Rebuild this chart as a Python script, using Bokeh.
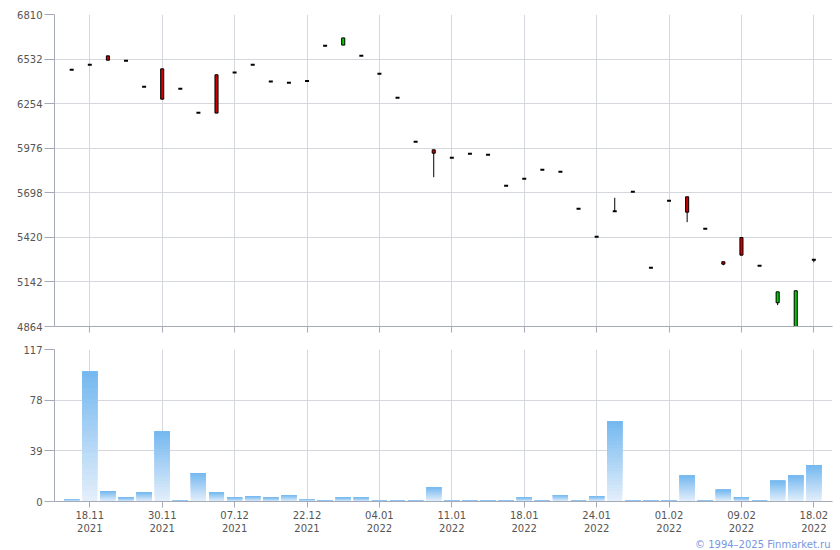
from bokeh.plotting import figure
from bokeh.layouts import column
from bokeh.models import FixedTicker, Range1d, Title
from bokeh.embed import file_html
from bokeh.resources import INLINE

# ---- data ----
price_open = [6465, 6496, 6552, 6521, 6359, 6471, 6347, 6197, 6434, 6448,
              6496, 6392, 6384, 6396, 6615, 6619, 6552, 6440, 6290, 6016,
              5966, 5916, 5941, 5935, 5742, 5785, 5841, 5829, 5598, 5424,
              5583, 5704, 5230, 5648, 5673, 5473, 5268, 5419, 5243, 5012,
              4864, 5280]
price_close = [6465, 6496, 6525, 6521, 6359, 6282, 6347, 6197, 6195, 6448,
               6496, 6392, 6384, 6396, 6615, 6664, 6552, 6440, 6290, 6016,
               5945, 5916, 5941, 5935, 5742, 5785, 5841, 5829, 5598, 5424,
               5583, 5704, 5230, 5648, 5577, 5473, 5253, 5309, 5243, 5080,
               5087, 5280]
price_high = [6465, 6496, 6552, 6521, 6359, 6471, 6347, 6197, 6434, 6448,
              6496, 6392, 6384, 6396, 6615, 6664, 6552, 6440, 6290, 6016,
              5966, 5916, 5941, 5935, 5742, 5785, 5841, 5829, 5598, 5424,
              5667, 5704, 5230, 5648, 5673, 5473, 5268, 5419, 5243, 5080,
              5087, 5280]
price_low = [6465, 6496, 6525, 6521, 6359, 6282, 6347, 6197, 6195, 6448,
             6496, 6392, 6384, 6396, 6615, 6619, 6552, 6440, 6290, 6016,
             5795, 5916, 5941, 5935, 5742, 5785, 5841, 5829, 5598, 5424,
             5583, 5704, 5230, 5648, 5515, 5473, 5246, 5309, 5243, 4997,
             4864, 5265]
volume = [2, 100, 8, 3, 7, 54, 1, 22, 7, 3,
          4, 3, 5, 2, 1, 3, 3, 1, 1, 1,
          11, 1, 1, 1, 1, 3, 1, 5, 1, 4,
          62, 1, 1, 1, 20, 1, 9, 3, 1, 16,
          20, 28]
price_ticks = [4864, 5142, 5420, 5698, 5976, 6254, 6532, 6810]
volume_ticks = [0, 39, 78, 117]
date_tick_index = [1, 5, 9, 13, 17, 21, 25, 29, 33, 37, 41]
date_tick_labels = ["18.11\n2021", "30.11\n2021", "07.12\n2021", "22.12\n2021",
                    "04.01\n2022", "11.01\n2022", "18.01\n2022", "24.01\n2022",
                    "01.02\n2022", "09.02\n2022", "18.02\n2022"]

FONT = "DejaVu Sans"
FS = "10px"
LABEL_COLOR = "#555555"
AXIS_COLOR = "#a6a9b6"
GRID_COLOR = "#d4d8dd"

x_range = Range1d(-0.95, 42.03)
n = len(volume)
xs = list(range(n))


def style(p, show_x_labels):
    p.outline_line_color = None
    p.background_fill_color = "white"
    p.border_fill_color = "white"
    for ax in p.axis:
        ax.axis_line_color = AXIS_COLOR
        ax.major_tick_line_color = AXIS_COLOR
        ax.minor_tick_line_color = None
        ax.major_label_text_font = FONT
        ax.major_label_text_font_size = FS
        ax.major_label_text_color = LABEL_COLOR
        ax.major_tick_in = 0
    p.yaxis.major_tick_out = 10
    p.yaxis.major_label_standoff = 2
    p.xaxis.major_tick_out = 6
    p.xaxis.ticker = FixedTicker(ticks=date_tick_index)
    if show_x_labels:
        p.xaxis.major_label_overrides = {i: lab for i, lab in zip(date_tick_index, date_tick_labels)}
        p.xaxis.major_label_standoff = 2
    else:
        p.xaxis.major_label_text_color = None
        p.xaxis.major_label_text_alpha = 0
        p.xaxis.major_label_standoff = 0
    p.grid.grid_line_color = GRID_COLOR
    p.grid.grid_line_width = 1


# ---- price panel ----
p1 = figure(width=840, height=336, x_range=x_range, y_range=Range1d(4864, 6810),
            output_backend="svg", toolbar_location=None,
            min_border_left=54, min_border_right=8, min_border_top=14, min_border_bottom=10)
style(p1, False)
p1.yaxis.ticker = FixedTicker(ticks=price_ticks)

# wicks
p1.segment(x0=xs, y0=price_high, x1=xs, y1=price_low, line_color="black", line_width=1)

# bodies (open != close) and flat dashes (open == close)
bx, btop, bbot, bcol = [], [], [], []
dx, dy = [], []
for i in range(n):
    o, c = price_open[i], price_close[i]
    if o == c:
        dx.append(i)
        dy.append(c)
    else:
        bx.append(i)
        btop.append(max(o, c))
        bbot.append(min(o, c))
        bcol.append("#00cc00" if c > o else "#cc0000")
p1.vbar(x=bx, width=0.17, top=btop, bottom=bbot, fill_color=bcol,
        line_color="black", line_width=1)
p1.segment(x0=[x - 0.11 for x in dx], y0=dy, x1=[x + 0.11 for x in dx], y1=dy,
           line_color="black", line_width=2)

# ---- volume panel ----
p2 = figure(width=840, height=214, x_range=x_range, y_range=Range1d(0, 117),
            output_backend="svg", toolbar_location=None,
            min_border_left=54, min_border_right=8, min_border_top=13, min_border_bottom=49)
style(p2, True)
p2.yaxis.ticker = FixedTicker(ticks=volume_ticks)

# per-bar vertical gradient: light at bottom -> blue at top
top_rgb = (118, 185, 240)
bot_rgb = (226, 238, 250)
N = 24
gx, gtop, gbot, gcol = [], [], [], []
for k in range(N):
    t = k / (N - 1)
    col = "#%02x%02x%02x" % tuple(round(bot_rgb[j] + (top_rgb[j] - bot_rgb[j]) * t) for j in range(3))
    for i, v in enumerate(volume):
        gx.append(i)
        gbot.append(v * k / N)
        gtop.append(v)
        gcol.append(col)
p2.vbar(x=gx, width=0.83, top=gtop, bottom=gbot, fill_color=gcol, line_color=None)

p2.add_layout(Title(text="© 1994–2025 Finmarket.ru", align="right",
                    text_font=FONT, text_font_size="10px", text_font_style="normal",
                    text_color="#7896e0", standoff=0, offset=2), "below")

layout = column(p1, p2, spacing=0)
open("out.html", "w").write(file_html(layout, INLINE))
